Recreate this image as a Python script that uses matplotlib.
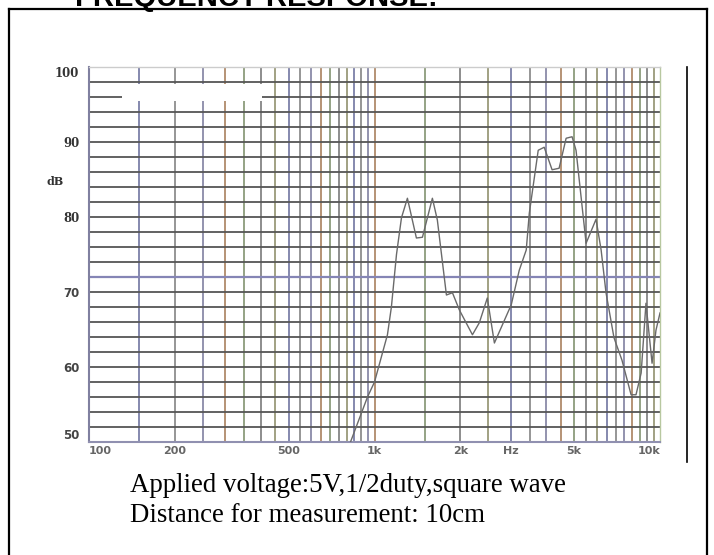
import matplotlib
matplotlib.use('Agg')
import matplotlib.pyplot as plt
from matplotlib.lines import Line2D
from matplotlib.patches import Rectangle

# frequency response
freq = [824, 945, 1000, 1110, 1146, 1194, 1243, 1304, 1402, 1472, 1595, 1660,
        1786, 1875, 1983, 2203, 2329, 2484, 2630, 3013, 3214, 3400, 3485, 3745,
        3930, 4188, 4432, 4690, 4920, 5080, 5510, 5970, 6220, 6470, 6900, 7360,
        7920, 8240, 8590, 8930, 9380, 9680, 10000]
spl = [50, 56, 58, 64.3, 68, 75, 79.9, 82.5, 77.2, 77.3, 82.5, 79.6,
       69.6, 69.9, 67.6, 64.3, 65.9, 69.2, 63.2, 68.3, 72.9, 75.6, 80.5, 88.9,
       89.3, 86.3, 86.5, 90.5, 90.7, 88.9, 76.5, 79.7, 75.6, 69.9, 63.9, 60.9,
       56.3, 56.3, 59.2, 68.5, 60.5, 64.9, 67.2]

x_ticks = [100, 200, 500, 1000, 2000, 3000, 5000, 10000]
x_labels = ['100', '200', '500', '1k', '2k', 'Hz', '5k', '10k']
y_ticks = [50, 60, 70, 80, 90, 100]
grid_x = list(range(150, 1000, 50)) + [1000] + list(range(1500, 10000, 500))
grid_y = list(range(52, 100, 2))

W, H = 714, 555
def fx(px):
    return px / W
def fy(py):
    return 1 - py / H

fig = plt.figure(figsize=(7.14, 5.55), dpi=100)
ax = fig.add_axes([fx(89), fy(442), (660 - 89) / W, (442 - 67) / H])

# scanned-looking grid, colours drift a bit like the original
vcols = ['#7c80a8', '#8e8e8e', '#8a8aa8', '#b08a6a', '#8c9c7c', '#858585', '#9a9a7a']
for i, f in enumerate(grid_x):
    ax.axvline(f, color=vcols[i % len(vcols)], lw=1.3, zorder=1)
for d in grid_y:
    c = '#8585b5' if d == 72 else '#555555'
    ax.axhline(d, color=c, lw=1.3 if d != 72 else 1.6, zorder=1)

# whited-out strip near the top left
ax.add_patch(Rectangle((130, 95.5), 402 - 130, 2.2, facecolor='white',
                       edgecolor='none', zorder=2))

ax.plot(freq, spl, color='#6a6a6a', lw=1.0, zorder=3)

ax.set_xscale('log')
ax.set_xlim(100, 10000)
ax.set_ylim(50, 100)
ax.minorticks_off()
ax.set_xticks(x_ticks)
ax.set_xticklabels(x_labels)
ax.set_yticks(y_ticks)
ax.tick_params(length=0)
ax.tick_params(axis='x', pad=3, labelsize=8, labelcolor='#666666')
ax.tick_params(axis='y', pad=7, labelsize=8.5, labelcolor='#444444')
for lab in ax.get_xticklabels():
    lab.set_fontweight('bold')
xl = ax.get_xticklabels()
xl[0].set_ha('left')
xl[-1].set_ha('right')
yl = ax.get_yticklabels()
for lab in yl:
    lab.set_fontweight('bold')
for lab in yl[3:]:
    lab.set_family('DejaVu Serif')
    lab.set_color('#333333')
yl[0].set_va('bottom')
yl[-1].set_va('top')

ax.text(-0.06, 84.7, 'dB', transform=ax.get_yaxis_transform(), ha='center',
        va='center', fontsize=8, fontweight='bold', family='DejaVu Serif',
        color='#333333')

ax.spines['left'].set_color('#8080a0')
ax.spines['left'].set_linewidth(1.5)
ax.spines['bottom'].set_color('#9090b0')
ax.spines['bottom'].set_linewidth(1.5)
ax.spines['top'].set_color('#cccccc')
ax.spines['top'].set_linewidth(1.0)
ax.spines['right'].set_color('#b8c8a0')
ax.spines['right'].set_linewidth(1.0)

# page frame and the cut-off heading
fig.add_artist(Line2D([fx(9), fx(9)], [0, fy(9)], color='black', lw=1.6))
fig.add_artist(Line2D([fx(9), fx(707)], [fy(9), fy(9)], color='black', lw=1.6))
fig.add_artist(Line2D([fx(707), fx(707)], [0, fy(9)], color='black', lw=1.6))
fig.add_artist(Line2D([fx(687), fx(687)], [fy(462), fy(67)], color='black', lw=1.2))
fig.text(fx(75), fy(6), 'FREQUENCY RESPONSE:', ha='left', va='baseline',
         fontsize=21, fontweight='bold', family='Liberation Sans')

fig.text(fx(130), fy(485), 'Applied voltage:5V,1/2duty,square wave', ha='left',
         va='center', fontsize=19.4, family='Liberation Serif')
fig.text(fx(130), fy(515), 'Distance for measurement: 10cm', ha='left',
         va='center', fontsize=19.4, family='Liberation Serif')

fig.savefig('out.png', dpi=100)
